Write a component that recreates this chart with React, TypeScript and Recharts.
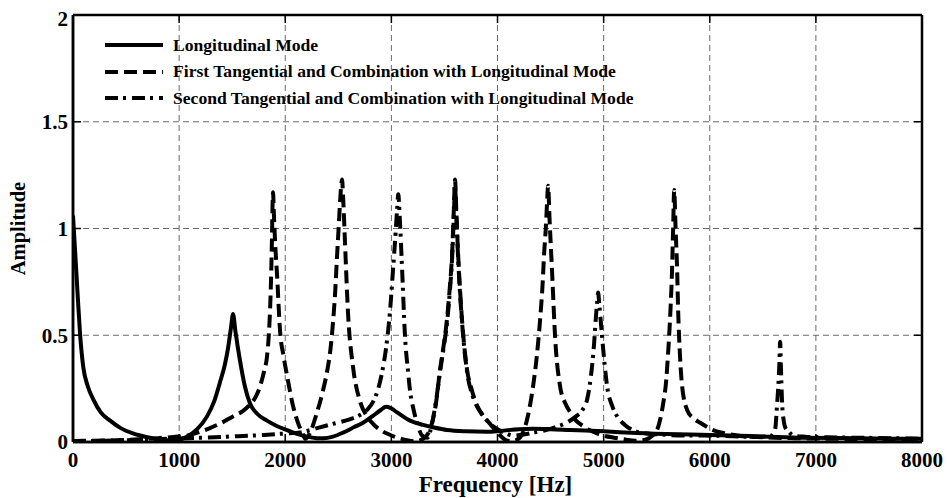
import React from 'react';
import { LineChart, Line, XAxis, YAxis, CartesianGrid, Legend, ReferenceLine } from 'recharts';

// ---------- data ----------
const longFreq = [0, 25, 45, 66, 97, 140, 191, 260, 350, 450, 565, 700, 820, 950, 1074, 1170, 1263, 1330, 1385, 1430, 1461, 1490, 1508, 1530, 1574, 1620, 1668, 1740, 1828, 1920, 2017, 2110, 2205, 2300, 2360, 2450, 2550, 2650, 2733, 2820, 2900, 2950, 2990, 3050, 3176, 3300, 3400, 3525, 3700, 3900, 4025, 4200, 4335, 4500, 4685, 5000, 5315, 5700, 6004, 6500, 6880, 7400, 7950, 8000];
const longAmp = [1.06, 0.85, 0.68, 0.51, 0.35, 0.26, 0.20, 0.14, 0.10, 0.065, 0.04, 0.022, 0.012, 0.008, 0.025, 0.06, 0.12, 0.19, 0.28, 0.36, 0.44, 0.54, 0.60, 0.52, 0.38, 0.26, 0.18, 0.13, 0.10, 0.075, 0.056, 0.038, 0.025, 0.018, 0.017, 0.025, 0.045, 0.07, 0.09, 0.12, 0.15, 0.165, 0.16, 0.14, 0.10, 0.08, 0.068, 0.056, 0.05, 0.048, 0.052, 0.06, 0.062, 0.06, 0.056, 0.05, 0.042, 0.036, 0.033, 0.026, 0.02, 0.018, 0.015, 0.015];

const firstFreq = [
  0, 200, 400, 600, 800,
  950, 1074, 1180, 1290, 1400,
  1508, 1600, 1668, 1720, 1762,
  1800, 1828, 1845, 1857, 1868,
  1875, 1880, 1885, 1892, 1905,
  1923, 1951, 1985, 2017, 2073,
  2120, 2168, 2190, 2230, 2300,
  2350, 2394, 2425, 2450, 2470,
  2488, 2505, 2516, 2527, 2535,
  2545, 2564, 2592, 2639, 2705,
  2770, 2827, 2900, 2980, 3060,
  3150, 3220, 3300, 3365, 3420,
  3459, 3495, 3525, 3550, 3572,
  3588, 3600, 3612, 3629, 3666,
  3713, 3760, 3808, 3870, 3930,
  4006, 4060, 4120, 4180, 4241,
  4290, 4335, 4370, 4401, 4425,
  4439, 4455, 4467, 4477, 4490,
  4514, 4543, 4590, 4640, 4684,
  4740, 4807, 4870, 4939, 5000,
  5100, 5200, 5300, 5400, 5460,
  5504, 5535, 5561, 5590, 5608,
  5630, 5645, 5655, 5665, 5678,
  5693, 5702, 5720, 5740, 5787,
  5850, 5910, 6032, 6150, 6286,
  6500, 6800, 7200, 7600, 8000,
];
const firstAmp = [
  0.005, 0.006, 0.008, 0.012, 0.018,
  0.024, 0.03, 0.045, 0.065, 0.09,
  0.12, 0.145, 0.175, 0.21, 0.26,
  0.33, 0.40, 0.50, 0.62, 0.80,
  0.96, 1.10, 1.17, 1.08, 0.93,
  0.78, 0.52, 0.40, 0.31, 0.17,
  0.09, 0.035, 0.015, 0.04, 0.14,
  0.23, 0.33, 0.43, 0.56, 0.70,
  0.87, 1.02, 1.12, 1.20, 1.23,
  1.15, 0.92, 0.60, 0.35, 0.19,
  0.12, 0.085, 0.055, 0.035, 0.02,
  0.008, 0.003, 0.015, 0.06, 0.18,
  0.34, 0.46, 0.58, 0.72, 0.88,
  1.08, 1.23, 1.08, 0.88, 0.57,
  0.34, 0.24, 0.17, 0.12, 0.085,
  0.04, 0.015, 0.004, 0.01, 0.045,
  0.13, 0.26, 0.40, 0.57, 0.74,
  0.88, 1.00, 1.12, 1.20, 1.05,
  0.80, 0.49, 0.26, 0.18, 0.14,
  0.10, 0.075, 0.055, 0.04, 0.03,
  0.02, 0.012, 0.006, 0.012, 0.03,
  0.056, 0.11, 0.18, 0.29, 0.42,
  0.62, 0.81, 1.00, 1.18, 1.00,
  0.80, 0.62, 0.40, 0.26, 0.15,
  0.11, 0.09, 0.056, 0.04, 0.028,
  0.022, 0.018, 0.015, 0.012, 0.01,
];

const secondFreq = [
  0, 300, 600, 900, 1200,
  1500, 1800, 2000, 2140, 2300,
  2450, 2600, 2700, 2770, 2830,
  2870, 2910, 2950, 2985, 3016,
  3040, 3054, 3065, 3078, 3101,
  3129, 3155, 3176, 3210, 3242,
  3290, 3340, 3380, 3420, 3459,
  3495, 3525, 3550, 3572, 3588,
  3600, 3612, 3629, 3666, 3713,
  3770, 3840, 3920, 4000, 4080,
  4150, 4250, 4350, 4450, 4550,
  4650, 4740, 4800, 4845, 4870,
  4892, 4910, 4925, 4940, 4948,
  4960, 4986, 5010, 5033, 5080,
  5127, 5200, 5278, 5400, 5550,
  5750, 5950, 6150, 6350, 6500,
  6580, 6616, 6635, 6648, 6657,
  6663, 6670, 6682, 6697, 6710,
  6750, 6786, 6900, 7100, 7400,
  7700, 8000,
];
const secondAmp = [
  0.003, 0.006, 0.01, 0.015, 0.02,
  0.026, 0.033, 0.04, 0.045, 0.065,
  0.085, 0.105, 0.125, 0.15, 0.19,
  0.24, 0.32, 0.44, 0.60, 0.81,
  0.98, 1.09, 1.16, 1.06, 0.81,
  0.49, 0.34, 0.24, 0.15, 0.09,
  0.03, 0.02, 0.08, 0.19, 0.33,
  0.45, 0.56, 0.70, 0.86, 1.05,
  1.20, 1.06, 0.86, 0.56, 0.33,
  0.21, 0.14, 0.09, 0.06, 0.04,
  0.03, 0.035, 0.045, 0.055, 0.07,
  0.09, 0.12, 0.15, 0.20, 0.27,
  0.36, 0.46, 0.57, 0.66, 0.70,
  0.64, 0.49, 0.36, 0.26, 0.17,
  0.12, 0.08, 0.055, 0.04, 0.035,
  0.03, 0.03, 0.028, 0.025, 0.025,
  0.03, 0.06, 0.18, 0.28, 0.38,
  0.47, 0.36, 0.18, 0.10, 0.07,
  0.045, 0.03, 0.025, 0.022, 0.02,
  0.018, 0.015,
];

const xTicks = [0, 1000, 2000, 3000, 4000, 5000, 6000, 7000, 8000];
const yTicks = [0, 0.5, 1, 1.5, 2];
const seriesNames = [
  'Longitudinal Mode',
  'First Tangential and Combination with Longitudinal Mode',
  'Second Tangential and Combination with Longitudinal Mode',
];
const xLabel = 'Frequency [Hz]';
const yLabel = 'Amplitude';

// ---------- layout / style ----------
const W = 947;
const H = 498;
const PL = 73;
const PR = 922;
const PT = 15;
const PB = 442;
const FONT = '"Liberation Serif", "Times New Roman", serif';
const DASHES = [undefined, '13 6', '13 5 3 6'];
const BOX = { stroke: '#000', strokeWidth: 2.5 };

const toData = (fs: number[], as: number[]) => fs.map((f, i) => ({ f, a: as[i] }));
const seriesData = [
  toData(longFreq, longAmp),
  toData(firstFreq, firstAmp),
  toData(secondFreq, secondAmp),
];

const BottomTick = (props: any) => {
  const { x, payload } = props;
  return (
    <g>
      <line x1={x} x2={x} y1={PB} y2={PB - 8} stroke="#000" strokeWidth={1.5} />
      <text x={x} y={PB + 25} textAnchor="middle" fontFamily={FONT} fontWeight="bold" fontSize={21} fill="#000">
        {payload.value}
      </text>
    </g>
  );
};
const TopTick = (props: any) => {
  const { x } = props;
  return <line x1={x} x2={x} y1={PT} y2={PT + 8} stroke="#000" strokeWidth={1.5} />;
};
const LeftTick = (props: any) => {
  const { y, payload } = props;
  const shift = payload.value === 2 ? 4 : 0;
  return (
    <g>
      <line x1={PL} x2={PL + 8} y1={y} y2={y} stroke="#000" strokeWidth={1.5} />
      <text x={PL - 5} y={y + shift} dy="0.35em" textAnchor="end" fontFamily={FONT} fontWeight="bold" fontSize={21} fill="#000">
        {payload.value}
      </text>
    </g>
  );
};
const RightTick = (props: any) => {
  const { y } = props;
  return <line x1={PR} x2={PR - 8} y1={y} y2={y} stroke="#000" strokeWidth={1.5} />;
};

const LegendBox = () => (
  <div style={{ fontFamily: FONT, fontWeight: 'bold', fontSize: 17.6, color: '#000', whiteSpace: 'nowrap' }}>
    {seriesNames.map((name, i) => (
      <div key={name} style={{ display: 'flex', alignItems: 'center', height: 26.5 }}>
        <svg width={58} height={8} style={{ display: 'block' }}>
          <line x1={0} x2={58} y1={4} y2={4} stroke="#000" strokeWidth={4} strokeDasharray={DASHES[i]} />
        </svg>
        <span style={{ marginLeft: 10 }}>{name}</span>
      </div>
    ))}
  </div>
);

export default function App() {
  return (
    <div style={{ position: 'absolute', left: 0, top: 0, width: W, height: H, overflow: 'hidden', background: '#fff' }}>
      <LineChart width={W} height={H} margin={{ top: PT - 1, right: W - PR - 1, bottom: 0, left: 0 }}>
        <CartesianGrid stroke="#6a6a6a" strokeDasharray="6 4" strokeWidth={1} />
        <XAxis
          xAxisId={0}
          dataKey="f"
          type="number"
          domain={[0, 8000]}
          ticks={xTicks}
          height={H - PB}
          tick={<BottomTick />}
          tickLine={false}
          axisLine={BOX}
          allowDataOverflow
          label={{
            value: xLabel,
            content: () => (
              <text x={(PL + PR) / 2 - 2} y={H - 6} textAnchor="middle" fontFamily={FONT} fontWeight="bold" fontSize={23} fill="#000">
                {xLabel}
              </text>
            ),
          }}
        />
        <XAxis
          xAxisId="top"
          orientation="top"
          dataKey="f"
          type="number"
          domain={[0, 8000]}
          ticks={xTicks}
          height={1}
          tick={<TopTick />}
          tickLine={false}
          axisLine={false}
          allowDataOverflow
        />
        <YAxis
          yAxisId={0}
          type="number"
          domain={[0, 2]}
          ticks={yTicks}
          width={PL}
          tick={<LeftTick />}
          tickLine={false}
          axisLine={BOX}
          allowDataOverflow
          label={{
            value: yLabel,
            content: () => (
              <text
                transform={`translate(18, ${(PT + PB) / 2}) rotate(-90)`}
                textAnchor="middle"
                dominantBaseline="central"
                fontFamily={FONT}
                fontWeight="bold"
                fontSize={20.5}
                fill="#000"
              >
                {yLabel}
              </text>
            ),
          }}
        />
        <YAxis
          yAxisId="right"
          orientation="right"
          type="number"
          domain={[0, 2]}
          ticks={yTicks}
          width={1}
          tick={<RightTick />}
          tickLine={false}
          axisLine={false}
          allowDataOverflow
        />
        <ReferenceLine x={0} stroke="#000" strokeWidth={2.5} />
        <ReferenceLine x={8000} stroke="#000" strokeWidth={2.5} />
        <ReferenceLine y={0} stroke="#000" strokeWidth={2.5} />
        <ReferenceLine y={2} stroke="#000" strokeWidth={2.5} />
        <Legend
          layout="vertical"
          verticalAlign="middle"
          align="center"
          content={<LegendBox />}
          wrapperStyle={{ left: 105, top: 32, width: 700 }}
        />
        {seriesData.map((d, i) => (
          <Line
            key={seriesNames[i]}
            data={d}
            dataKey="a"
            name={seriesNames[i]}
            type="monotone"
            stroke="#000"
            strokeWidth={4}
            strokeDasharray={DASHES[i]}
            dot={false}
            activeDot={false}
            isAnimationActive={false}
          />
        ))}
      </LineChart>
    </div>
  );
}
